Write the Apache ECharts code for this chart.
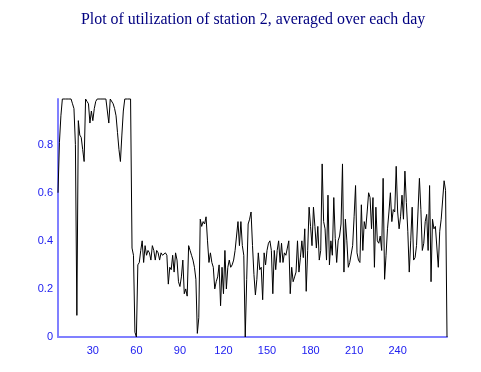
<!DOCTYPE html>
<html>
<head>
<meta charset="utf-8">
<script src="https://cdn.jsdelivr.net/npm/echarts@6/dist/echarts.min.js"></script>
<style>
html,body{margin:0;padding:0;background:#fff;}
#chart{width:481px;height:372px;}
</style>
</head>
<body>
<div id="chart"></div>
<script>
const titleText = 'Plot of utilization of station 2, averaged over each day';
const firstDay = 6;
// daily average utilization, days 6..274
const utilization = [
  0.60,0.81,0.92,0.99,0.99,0.99,0.99,0.99,0.99,0.99,
  0.97,0.95,0.80,0.09,0.90,0.84,0.83,0.78,0.73,0.99,
  0.98,0.97,0.89,0.94,0.90,0.95,0.98,0.99,0.99,0.99,
  0.99,0.99,0.99,0.99,0.99,0.89,0.99,0.99,0.97,0.95,
  0.92,0.85,0.78,0.73,0.84,0.94,0.99,0.99,0.99,0.99,
  0.99,0.37,0.34,0.02,0.00,0.30,0.31,0.36,0.40,0.31,
  0.38,0.34,0.36,0.35,0.32,0.38,0.36,0.32,0.36,0.35,
  0.32,0.35,0.34,0.34,0.35,0.34,0.22,0.29,0.28,0.34,
  0.27,0.35,0.32,0.23,0.21,0.25,0.32,0.18,0.20,0.17,
  0.38,0.36,0.34,0.32,0.29,0.24,0.015,0.08,0.49,0.46,
  0.48,0.47,0.50,0.40,0.31,0.35,0.31,0.29,0.20,0.23,
  0.25,0.30,0.13,0.29,0.18,0.36,0.20,0.29,0.32,0.29,
  0.30,0.32,0.36,0.42,0.48,0.38,0.48,0.38,0.34,0.00,
  0.24,0.47,0.49,0.52,0.38,0.26,0.175,0.24,0.35,0.28,
  0.29,0.155,0.35,0.30,0.36,0.39,0.40,0.36,0.18,0.36,
  0.28,0.36,0.40,0.31,0.39,0.31,0.35,0.34,0.37,0.40,
  0.18,0.29,0.23,0.25,0.27,0.40,0.27,0.33,0.40,0.33,
  0.45,0.19,0.36,0.54,0.46,0.38,0.54,0.46,0.37,0.46,
  0.32,0.36,0.72,0.48,0.45,0.32,0.59,0.30,0.40,0.34,
  0.58,0.41,0.31,0.40,0.42,0.47,0.72,0.27,0.49,0.40,
  0.29,0.31,0.31,0.38,0.50,0.63,0.35,0.32,0.31,0.55,
  0.36,0.48,0.45,0.52,0.60,0.58,0.45,0.58,0.29,0.54,
  0.40,0.39,0.42,0.36,0.66,0.24,0.34,0.45,0.52,0.60,
  0.48,0.53,0.52,0.71,0.52,0.45,0.50,0.59,0.49,0.69,
  0.56,0.44,0.27,0.40,0.54,0.32,0.33,0.38,0.52,0.66,
  0.53,0.36,0.39,0.48,0.51,0.36,0.63,0.23,0.49,0.45,
  0.46,0.46,0.29,0.44,0.49,0.57,0.65,0.61,0.00
];
const xTicks = [30, 60, 90, 120, 150, 180, 210, 240];
const yTicks = [0, 0.2, 0.4, 0.6, 0.8];
const yMax = 0.99;

const days = utilization.map((_, i) => String(firstDay + i));

const chart = echarts.init(document.getElementById('chart'), null, {renderer: 'canvas'});
const axisBlue = '#8080ff';
const labelBlue = '#2020f0';
chart.setOption({
  animation: false,
  backgroundColor: '#ffffff',
  title: {
    text: titleText,
    left: 76,
    top: 7,
    textStyle: {fontFamily: 'Liberation Serif', fontSize: 15.9, fontWeight: 'normal', color: '#000080'}
  },
  grid: {left: 58, right: 34, top: 99, bottom: 35, containLabel: false},
  xAxis: {
    type: 'category',
    data: days,
    boundaryGap: false,
    axisLine: {lineStyle: {color: axisBlue, width: 2}},
    axisTick: {show: false},
    splitLine: {show: false},
    axisLabel: {
      color: labelBlue, fontFamily: 'Liberation Sans', fontSize: 11, margin: 8,
      interval: (idx, val) => xTicks.includes(Number(val))
    }
  },
  yAxis: {
    type: 'value',
    min: 0,
    max: yMax,
    interval: 0.2,
    axisLine: {show: true, lineStyle: {color: axisBlue, width: 2}},
    axisTick: {show: false},
    splitLine: {show: false},
    axisLabel: {
      color: labelBlue, fontFamily: 'Liberation Sans', fontSize: 11, margin: 5,
      showMaxLabel: false,
      formatter: v => (yTicks.some(t => Math.abs(t - v) < 1e-9) ? String(+v.toFixed(1)) : '')
    }
  },
  series: [{
    type: 'line',
    data: utilization,
    showSymbol: false,
    symbol: 'none',
    lineStyle: {color: '#000000', width: 1},
    clip: false
  }]
});
</script>
</body>
</html>
